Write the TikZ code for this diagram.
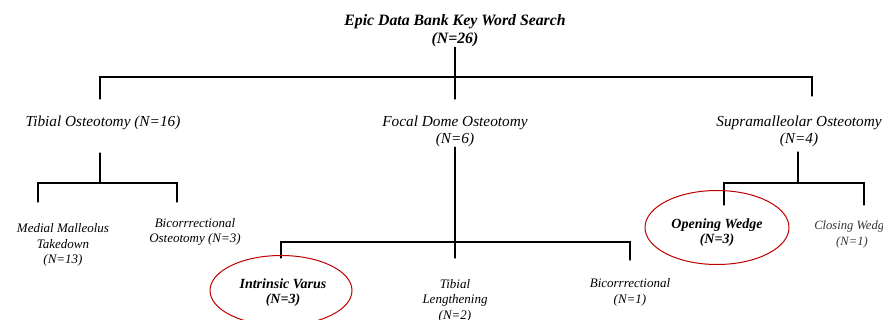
\documentclass[tikz,border=0pt]{standalone}
\usepackage{fontspec}
\setmainfont{Liberation Serif}
\usetikzlibrary{positioning,calc}

\begin{document}
\begin{tikzpicture}[x=1pt,y=-1pt,
  lvl/.style={font=\itshape\fontsize{15.3}{17}\selectfont,align=center,inner sep=0pt},
  leaf/.style={font=\itshape\fontsize{13}{15.5}\selectfont,align=center,inner sep=0pt},
  keyleaf/.style={font=\bfseries\itshape\fontsize{14}{15.5}\selectfont,align=center,inner sep=0pt},
  ring/.style={draw=red!75!black,line width=1pt},
  tree/.style={line width=1.1pt,line cap=round}]
\useasboundingbox (0,0) rectangle (883,320);
% top of the search
\node[font=\bfseries\itshape\fontsize{15.8}{18}\selectfont,align=center,inner sep=0pt]
  (search) at (455,31) {Epic Data Bank Key Word Search\\(N=26)};
% first split
\node[lvl] (tibial) at (103,123) {Tibial Osteotomy (N=16)};
\node[lvl] (focal) at (455,131.5) {Focal Dome Osteotomy\\(N=6)};
\node[lvl] (supra) at (799,131.5) {Supramalleolar Osteotomy\\(N=4)};
% tibial osteotomy leaves
\node[leaf] (medial) at (63,245) {Medial Malleolus\\Takedown\\(N=13)};
\node[leaf] (bicorost) at (195,232) {Bicorrrectional\\Osteotomy (N=3)};
% focal dome leaves
\node[keyleaf] (varus) at (283,292.5) {Intrinsic Varus\\(N=3)};
\node[leaf] (lengthen) at (455,300.5) {Tibial\\Lengthening\\(N=2)};
\node[leaf] (bicor) at (630,292.5) {Bicorrrectional\\(N=1)};
% supramalleolar leaves
\node[keyleaf] (opening) at (717,232.5) {Opening Wedge\\(N=3)};
\node[leaf,font=\itshape\fontsize{12.6}{15.5}\selectfont,text=black!80] (closing) at (852,234.5) {Closing Wedge\\(N=1)};
% junctions
\coordinate (j0) at (455,77);
\coordinate (jt) at (100,183);
\coordinate (jf) at (455,242);
\coordinate (js) at (798,183);
% main bar
\draw[tree] (search.south) -- ($(j0)+(0,22)$);
\draw[tree] ($(jt|-j0)+(0,22)$) -- (jt|-j0) -- ($(812,77)$) -- ++(0,19);
% tibial branch
\draw[tree] ($(jt)+(0,-30)$) -- (jt);
\draw[tree] ($(jt-|38,0)+(0,19)$) |- (jt) -| ($(jt-|177,0)+(0,19)$);
% focal dome branch
\draw[tree] (focal.south) -- ($(jf)+(0,16)$);
\draw[tree] ($(jf-|281,0)+(0,16)$) -- (jf-|281,0) -- (jf-|630,0) -- ++(0,18);
% supramalleolar branch
\draw[tree] ($(js)+(0,-31)$) -- (js);
\draw[tree] ($(js-|724,0)+(0,22)$) -- (js-|724,0) -- (js-|864,0) -- ++(0,22);
% circled results
\draw[ring] ($(varus)+(-2,-2)$) ellipse [x radius=71, y radius=35];
\draw[ring] ($(opening)+(0,-5)$) ellipse [x radius=72, y radius=37];
\end{tikzpicture}
\end{document}
